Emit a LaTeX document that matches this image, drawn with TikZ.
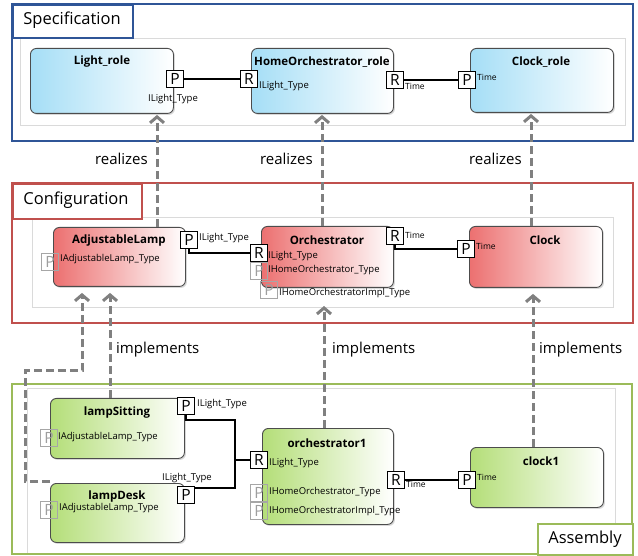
\documentclass[tikz,border=0pt]{standalone}
\usepackage{fontspec}
\setmainfont{Open Sans}
\usetikzlibrary{arrows.meta,shadows,calc}
\definecolor{specblue}{RGB}{47,85,151}
\definecolor{cfgred}{RGB}{192,80,77}
\definecolor{asmgreen}{RGB}{155,187,89}
\definecolor{specfill}{RGB}{165,222,246}
\definecolor{cfgfill}{RGB}{236,112,112}
\definecolor{asmfill}{RGB}{180,222,120}
\definecolor{depgray}{RGB}{128,128,128}
\definecolor{innergray}{RGB}{218,218,218}
\begin{document}
\begin{tikzpicture}[x=1pt,y=-1pt,
  frame/.style={line width=2.4pt},
  ftitle/.style={font=\fontsize{16.5}{18}\selectfont},
  innerbox/.style={draw=innergray, line width=0.7pt},
  comp/.style={draw=black!70, line width=0.9pt, rounded corners=6pt, anchor=north west, inner sep=0pt,
    drop shadow={shadow xshift=1.5pt, shadow yshift=-1.5pt, opacity=0.3}},
  specc/.style={comp, left color=specfill, right color=white},
  cfgc/.style={comp, left color=cfgfill, right color=white},
  asmc/.style={comp, left color=asmfill, right color=white},
  btitle/.style={font=\fontsize{11.5}{13}\selectfont\bfseries, inner sep=0pt},
  port/.style={draw=black, fill=white, line width=0.9pt, minimum size=17pt, inner sep=0pt,
    font=\fontsize{15.5}{15.5}\selectfont},
  fport/.style={port, draw=black!35, fill=none, text=black!38},
  plabel/.style={font=\fontsize{9.5}{11}\selectfont, inner sep=0pt, anchor=west},
  tlabel/.style={font=\fontsize{8.5}{10}\selectfont, inner sep=0pt, anchor=west},
  conn/.style={line width=1.5pt, black},
  dep/.style={draw=depgray, line width=3pt, dash pattern=on 8pt off 4pt,
    -{Straight Barb[length=6pt,width=14pt]}},
  deplabel/.style={font=\fontsize{15}{17}\selectfont, inner sep=0pt}
]
\useasboundingbox (0,0) rectangle (638,556);
\fill[white] (0,0) rectangle (638,556);

% ================= Specification =================
\draw[innerbox] (20,38) rectangle (625,125);
\draw[frame, draw=specblue] (12,4) rectangle (633,141);
\node[draw=specblue, frame, fill=white, minimum width=120pt, minimum height=33pt, anchor=north west, inner sep=0pt] (specT) at (12,4) {};
\node[ftitle] (specTt) at (72,20) {Specification};

\node[specc, minimum width=143pt, minimum height=65pt] (lr) at (30,48) {};
\node[btitle] (lrT) at (102,62) {Light\_role};
\node[specc, minimum width=142pt, minimum height=65pt] (hr) at (251,48) {};
\node[btitle] (hrT) at (322,62) {HomeOrchestrator\_role};
\node[specc, minimum width=143pt, minimum height=64pt] (cr) at (470,48) {};
\node[btitle] (crT) at (541,62) {Clock\_role};

\coordinate (pLrC) at (175,79);
\coordinate (rHrC) at (249,79);
\coordinate (rHr2C) at (395,80);
\coordinate (pCrC) at (467,80);
\node[port] (pLr) at (pLrC) {P};
\node[port] (rHr) at (rHrC) {R};
\node[port] (rHr2) at (rHr2C) {R};
\node[port] (pCr) at (pCrC) {P};
\draw[conn] (pLr.east) -- (rHr.west);
\draw[conn] (rHr2.east) -- (pCr.west);
\node[plabel] (lLr) at (148,99) {ILight\_Type};
\node[plabel] (lHr) at (259,86) {ILight\_Type};
\node[tlabel] (lHr2) at (405,86) {Time};
\node[tlabel] (lCr) at (477,77) {Time};

% ================= Configuration =================
\draw[innerbox] (32,217) rectangle (613,307);
\draw[frame, draw=cfgred] (12,183) rectangle (633,323);
\node[draw=cfgred, frame, fill=white, minimum width=129pt, minimum height=35pt, anchor=north west, inner sep=0pt] (cfgT) at (12,183) {};
\node[ftitle] (cfgTt) at (76,200) {Configuration};

\node[cfgc, minimum width=132pt, minimum height=59pt] (al) at (53,227) {};
\node[btitle] (alT) at (119,241) {AdjustableLamp};
\node[cfgc, minimum width=132pt, minimum height=61pt] (or) at (261,226) {};
\node[btitle] (orT) at (327,240) {Orchestrator};
\node[cfgc, minimum width=133pt, minimum height=61pt] (cl) at (469,226) {};
\node[btitle] (clT) at (545,240) {Clock};

\node[fport] (fpA) at (50,262) {P};
\node[port] (pA) at (189,240) {P};
\node[port] (rO) at (259,253) {R};
\node[fport] (fpO1) at (259,271) {P};
\node[fport] (fpO2) at (269,290) {P};
\node[port] (rOt) at (395,236) {R};
\node[port] (pC) at (466,249) {P};
\draw[conn] (pA.south) |- (rO.west);
\draw[conn] (rOt.south) |- (pC.west);
\node[plabel] (lA1) at (60,259) {IAdjustableLamp\_Type};
\node[plabel] (lA2) at (199,238) {ILight\_Type};
\node[plabel] (lO1) at (268,256) {ILight\_Type};
\node[plabel] (lO2) at (268,270) {IHomeOrchestrator\_Type};
\node[plabel] (lO3) at (279,293) {IHomeOrchestratorImpl\_Type};
\node[tlabel] (lO4) at (405,235) {Time};
\node[tlabel] (lC) at (476,246) {Time};

% ================= Assembly =================
\draw[innerbox] (27,388) rectangle (615,553);
\draw[frame, draw=asmgreen] (12,384) rectangle (632,554);

\node[asmc, minimum width=134pt, minimum height=60pt] (ls) at (50,398) {};
\node[btitle] (lsT) at (117,413) {lampSitting};
\node[asmc, minimum width=134pt, minimum height=59pt] (ld) at (50,483) {};
\node[btitle] (ldT) at (117,497) {lampDesk};
\node[asmc, minimum width=131pt, minimum height=96pt] (o1) at (262,428) {};
\node[btitle] (o1T) at (327,443) {orchestrator1};
\node[asmc, minimum width=133pt, minimum height=60pt] (c1) at (470,447) {};
\node[btitle] (c1T) at (541,461) {clock1};

\coordinate (jt) at (235,420);
\coordinate (jb) at (235,488);
\node[fport] (fpS) at (49,438) {P};
\node[port] (pS) at (186,406) {P};
\node[fport] (fpD) at (49,510) {P};
\node[port] (pD) at (186,495) {P};
\node[port] (rO1) at (259,460) {R};
\node[fport] (fpO11) at (259,493) {P};
\node[fport] (fpO12) at (259,511) {P};
\node[port] (rO1t) at (396,480) {R};
\node[port] (pC1) at (467,480) {P};
\draw[conn] (pS.south) |- (jt) -- (jb) -- (pD.east |- jb);
\draw[conn] (jt |- rO1.west) -- (rO1.west);
\draw[conn] (rO1t.east) -- (pC1.west);
\node[plabel] (lS1) at (58,437) {IAdjustableLamp\_Type};
\node[plabel] (lS2) at (197,404) {ILight\_Type};
\node[plabel] (lD1) at (59,508) {IAdjustableLamp\_Type};
\node[plabel, anchor=center] (lD2) at (187,478) {ILight\_Type};
\node[plabel] (lO11) at (269,463) {ILight\_Type};
\node[plabel] (lO12) at (269,492) {IHomeOrchestrator\_Type};
\node[plabel] (lO13) at (269,511) {IHomeOrchestratorImpl\_Type};
\node[tlabel] (lO14) at (406,484) {Time};
\node[tlabel] (lC1) at (477,477) {Time};

\node[draw=asmgreen, frame, fill=white, minimum width=95pt, minimum height=31pt, anchor=north west, inner sep=0pt] (asmT) at (537,523) {};
\node[ftitle] (asmTt) at (585,539) {Assembly};

% ================= dependencies =================
\coordinate (x1) at (157,0);
\coordinate (x2) at (322,0);
\coordinate (x3) at (531,0);
\draw[dep, shorten >=1pt] (x1 |- al.north) -- (x1 |- lr.south);
\draw[dep, shorten >=1pt] (x2 |- or.north) -- (x2 |- hr.south);
\draw[dep, shorten >=1pt] (x3 |- cl.north) -- (x3 |- cr.south);
\node[deplabel, anchor=east] (re1) at (148,159) {realizes};
\node[deplabel, anchor=east] (re2) at (313,159) {realizes};
\node[deplabel, anchor=east] (re3) at (522,159) {realizes};

\coordinate (y1) at (110,0);
\coordinate (y2) at (82,0);
\coordinate (y3) at (324,0);
\coordinate (y4) at (533,0);
\coordinate (k1) at (25,371);
\coordinate (tipO) at (324,306);
\draw[dep, shorten >=6pt] (y1 |- ls.north) -- (y1 |- al.south);
\draw[dep, shorten >=6pt] ($(ld.north west)+(0,-2)$) -- ($(k1 |- ld.north west)+(0,-2)$) -- (k1) -| (y2 |- al.south);
\draw[dep] (y3 |- o1.north) -- (tipO);
\draw[dep, shorten >=6pt] (y4 |- c1.north) -- (y4 |- cl.south);
\node[deplabel, anchor=west] (im1) at (116,350) {implements};
\node[deplabel, anchor=west] (im2) at (332,350) {implements};
\node[deplabel, anchor=west] (im3) at (539,350) {implements};
\end{tikzpicture}
\end{document}
